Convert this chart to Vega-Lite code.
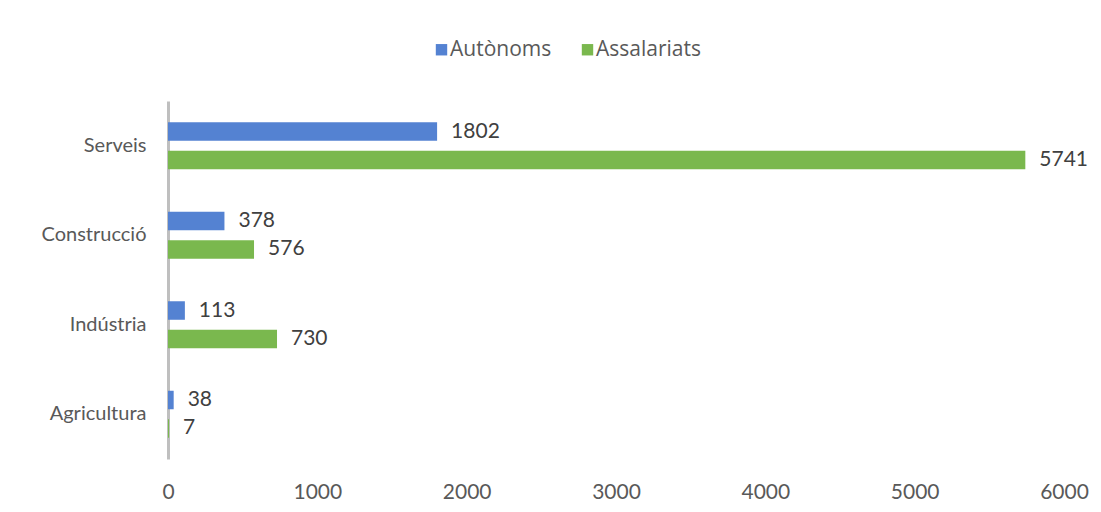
{
  "$schema": "https://vega.github.io/schema/vega-lite/v6.json",
  "autosize": "none",
  "width": 896,
  "height": 358,
  "padding": {"left": 168, "top": 101, "right": 37, "bottom": 53},
  "background": "white",
  "data": {
    "values": [
      {"sector": "Serveis", "tipus": "Autònoms", "valor": 1802},
      {"sector": "Serveis", "tipus": "Assalariats", "valor": 5741},
      {"sector": "Construcció", "tipus": "Autònoms", "valor": 378},
      {"sector": "Construcció", "tipus": "Assalariats", "valor": 576},
      {"sector": "Indústria", "tipus": "Autònoms", "valor": 113},
      {"sector": "Indústria", "tipus": "Assalariats", "valor": 730},
      {"sector": "Agricultura", "tipus": "Autònoms", "valor": 38},
      {"sector": "Agricultura", "tipus": "Assalariats", "valor": 7}
    ]
  },
  "encoding": {
    "y": {
      "field": "sector", "type": "nominal",
      "sort": ["Serveis", "Construcció", "Indústria", "Agricultura"],
      "scale": {"paddingInner": 0.475, "paddingOuter": 0.2375},
      "axis": {
        "title": null, "ticks": false, "domain": true, "domainColor": "#bfbfbf", "domainWidth": 3,
        "labelFont": "Lato", "labelFontSize": 20, "labelColor": "#595959", "labelPadding": 22
      }
    },
    "yOffset": {
      "field": "tipus", "type": "nominal",
      "sort": ["Autònoms", "Assalariats"],
      "scale": {"paddingInner": 0.35, "paddingOuter": 0}
    },
    "x": {
      "field": "valor", "type": "quantitative",
      "scale": {"domain": [0, 6000], "nice": false},
      "axis": {
        "title": null, "values": [0, 1000, 2000, 3000, 4000, 5000, 6000], "format": "d",
        "grid": false, "domain": false, "ticks": false,
        "labelFont": "Lato", "labelFontSize": 21, "labelColor": "#595959", "labelPadding": 22,
        "labelFlush": false
      }
    }
  },
  "layer": [
    {
      "mark": {"type": "bar"},
      "encoding": {
        "color": {
          "field": "tipus", "type": "nominal",
          "sort": ["Autònoms", "Assalariats"],
          "scale": {"domain": ["Autònoms", "Assalariats"], "range": ["#5482d2", "#7ab84e"]},
          "legend": {
            "title": null, "orient": "none", "direction": "horizontal",
            "legendX": 263, "legendY": -62,
            "symbolType": "square", "symbolSize": 130, "symbolStrokeWidth": 0,
            "labelFont": "Open Sans", "labelFontSize": 21, "labelColor": "#595959",
            "columnPadding": 25, "labelOffset": -2
          }
        }
      }
    },
    {
      "mark": {"type": "text", "align": "left", "baseline": "middle", "dx": 14, "font": "Lato", "fontSize": 21, "color": "#404040"},
      "encoding": {
        "text": {"field": "valor", "type": "quantitative", "format": "d"}
      }
    }
  ],
  "config": {"view": {"stroke": null}}
}
